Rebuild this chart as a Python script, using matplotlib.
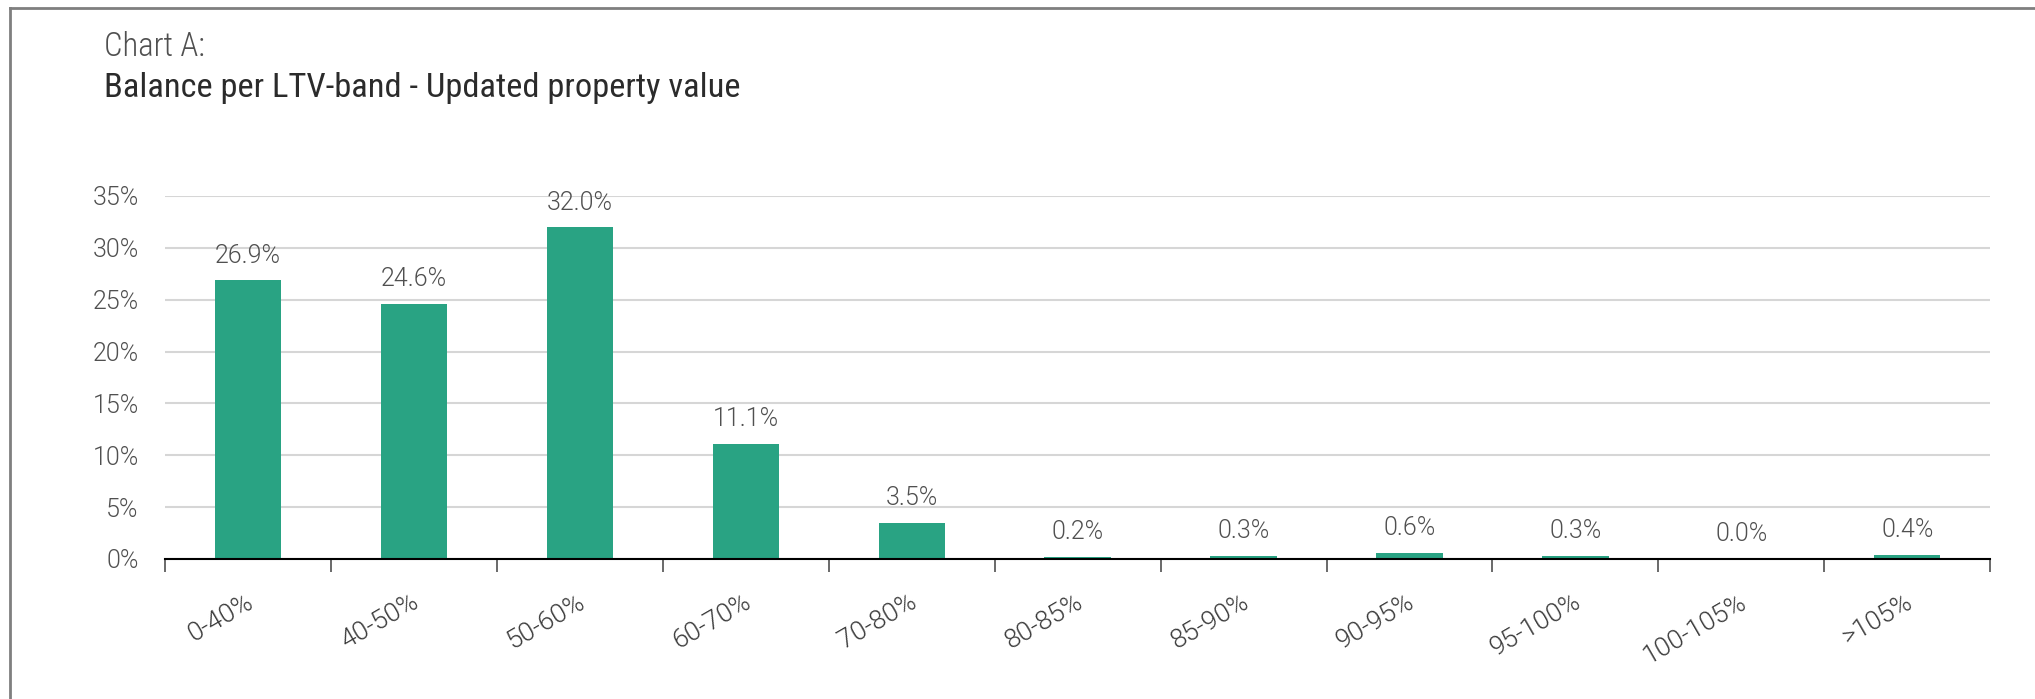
import matplotlib
matplotlib.use("Agg")
import matplotlib.pyplot as plt
from matplotlib.lines import Line2D
from matplotlib import font_manager

# data
bands = ['0-40%', '40-50%', '50-60%', '60-70%', '70-80%', '80-85%',
         '85-90%', '90-95%', '95-100%', '100-105%', '>105%']
balance_pct = [26.9, 24.6, 32.0, 11.1, 3.5, 0.2, 0.3, 0.6, 0.3, 0.0, 0.4]
y_ticks = [0, 5, 10, 15, 20, 25, 30, 35]

names = {f.name for f in font_manager.fontManager.ttflist}
cond = [n for n in ['Roboto Condensed', 'Roboto'] if n in names] + ['DejaVu Sans']
plain = [n for n in ['Roboto'] if n in names] + ['DejaVu Sans']
plt.rcParams['font.family'] = plain

bar_color = '#29A383'
grey_txt = '#505050'
LIGHT = 300

fig = plt.figure(figsize=(20.35, 6.99), dpi=100)
ax = fig.add_axes([0.0811, 0.2003, 0.978 - 0.0811, 0.7196 - 0.2003])

x = list(range(len(bands)))
bars = ax.bar(x, balance_pct, width=0.4, color=bar_color, zorder=3)

for b, v in zip(bars, balance_pct):
    ax.annotate('{:.1f}%'.format(v), (b.get_x() + b.get_width() / 2, b.get_height()),
                xytext=(0, 9), textcoords='offset points', ha='center', va='bottom',
                fontsize=18, color=grey_txt, fontweight=LIGHT)

ax.set_xlim(-0.5, len(bands) - 0.5)
ax.set_ylim(0, 35)
ax.set_yticks(y_ticks)
ax.set_yticklabels(['{}%'.format(t) for t in y_ticks], fontsize=18, color=grey_txt,
                   fontweight=LIGHT)
ax.tick_params(axis='y', length=0, pad=19)
ax.yaxis.grid(True, color='#D6D6D6', linewidth=1.5, zorder=0)
ax.set_axisbelow(True)

# ticks sit between categories
ax.set_xticks([i - 0.5 for i in range(len(bands) + 1)])
ax.set_xticklabels([])
ax.tick_params(axis='x', length=9, width=1.2, color='#505050')

# category labels under the bars, rotated
for i, lab in enumerate(bands):
    ax.annotate(lab, (i, 0), xytext=(-2, -22), textcoords='offset points',
                rotation=30, ha='right', va='top', rotation_mode='anchor',
                fontsize=19, color='#3A3A3A', fontweight=LIGHT,
                annotation_clip=False)

for s in ['top', 'right', 'left']:
    ax.spines[s].set_visible(False)
ax.spines['bottom'].set_color('black')
ax.spines['bottom'].set_linewidth(1.5)
ax.spines['bottom'].set_zorder(4)

# titles
fig.text(104 / 2035, 1 - 47 / 699, 'Chart A:', fontsize=23.5, color='#505050',
         ha='left', va='center', fontweight=LIGHT, family=cond)
fig.text(104 / 2035, 1 - 88 / 699, 'Balance per LTV-band - Updated property value',
         fontsize=24.8, color='#2B2B2B', ha='left', va='center', family=cond)

# outer frame (left and top edges)
fig.add_artist(Line2D([10 / 2035, 10 / 2035], [0, 1 - 8 / 699], color='#7F7F7F', lw=2,
                      transform=fig.transFigure))
fig.add_artist(Line2D([10 / 2035, 1], [1 - 8 / 699, 1 - 8 / 699], color='#7F7F7F', lw=2,
                      transform=fig.transFigure))

plt.savefig('out.png', dpi=100)
